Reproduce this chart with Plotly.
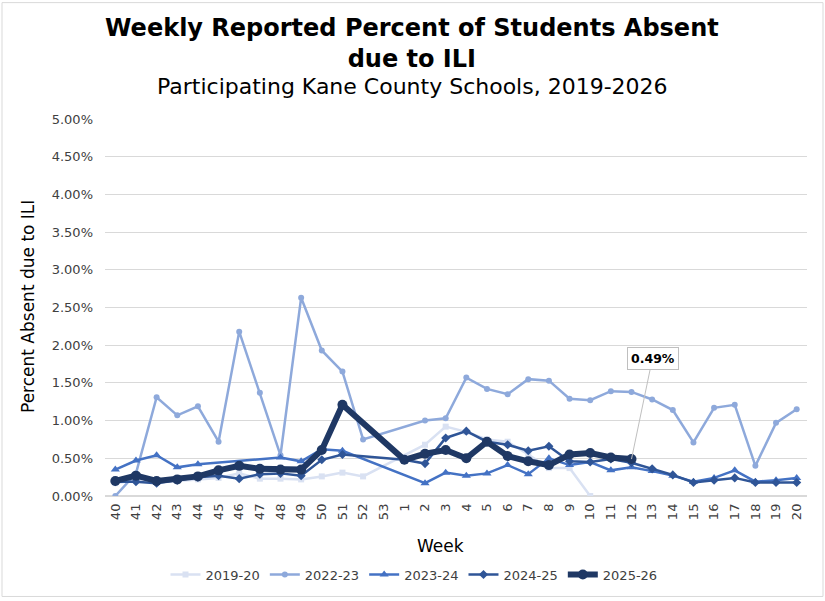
import plotly.graph_objects as go

# weeks of the flu season, 40..53 then 1..20
weeks = [str(w) for w in range(40, 54)] + [str(w) for w in range(1, 21)]

# percent absent due to ILI (None = no report, line connects across)
s2019_20 = [0.17, 0.21, 0.20, 0.20, 0.22, 0.24, 0.30, 0.23, 0.23, 0.22, 0.26, 0.31, 0.26,
            None, None, 0.68, 0.92, 0.85, 0.75, 0.72, 0.55, 0.37, 0.37, 0.00,
            None, None, None, None, None, None, None, None, None, None]
s2022_23 = [0.00, 0.30, 1.31, 1.07, 1.19, 0.72, 2.18, 1.37, 0.54, 2.63, 1.93, 1.65, 0.75,
            None, None, 1.00, 1.03, 1.57, 1.42, 1.35, 1.55, 1.53, 1.29, 1.27, 1.39,
            1.38, 1.28, 1.14, 0.71, 1.17, 1.21, 0.40, 0.97, 1.15]
s2023_24 = [0.35, 0.47, 0.54, 0.38, 0.42, None, None, None, 0.51, 0.46, 0.62, 0.60,
            None, None, None, 0.17, 0.31, 0.27, 0.30, 0.41, 0.29, 0.50, 0.41, 0.45,
            0.34, 0.38, 0.33, 0.27, 0.19, 0.24, 0.34, 0.19, 0.21, 0.24]
s2024_25 = [0.19, 0.19, 0.17, 0.21, 0.25, 0.27, 0.23, 0.29, 0.30, 0.27, 0.48, 0.55,
            None, None, 0.48, 0.43, 0.77, 0.86, 0.72, 0.68, 0.60, 0.66, 0.46, 0.45,
            0.49, 0.44, 0.36, 0.28, 0.18, 0.21, 0.24, 0.18, 0.18, 0.18]
s2025_26 = [0.20, 0.27, 0.20, 0.22, 0.26, 0.34, 0.40, 0.36, 0.35, 0.35, 0.61, 1.21,
            None, None, 0.48, 0.56, 0.61, 0.50, 0.72, 0.53, 0.46, 0.41, 0.55, 0.57,
            0.51, 0.49, None, None, None, None, None, None, None, None]

FONT = "DejaVu Sans"

series = [
    ("2019-20", s2019_20, "#D9E1F2", 2.5, "square", 6),
    ("2022-23", s2022_23, "#8EA9DB", 2.5, "circle", 6),
    ("2023-24", s2023_24, "#4472C4", 2.5, "triangle-up", 8),
    ("2024-25", s2024_25, "#2F5597", 2.5, "diamond", 7),
    ("2025-26", s2025_26, "#1F3864", 6, "circle", 10),
]

fig = go.Figure()
for name, vals, col, lw, sym, ms in series:
    fig.add_trace(go.Scatter(
        x=weeks, y=vals, name=name, mode="lines+markers",
        line=dict(color=col, width=lw),
        marker=dict(color=col, symbol=sym, size=ms),
        connectgaps=True,
    ))

# plot area in pixels: x 105..807, y 119..498
L, R, T, B = 105, 18, 119, 103
W, H = 825 - L - R, 601 - T - B

def px(x):
    return (x - L) / W

def py(y):
    return (601 - B - y) / H

fig.update_layout(
    width=825, height=601,
    margin=dict(l=L, r=R, t=T, b=B),
    paper_bgcolor="white", plot_bgcolor="white",
    font=dict(family=FONT, color="#000000"),
    showlegend=True,
    legend=dict(orientation="h", x=px(414), xanchor="center", y=py(577), yanchor="middle",
                font=dict(size=13, color="#404040"), traceorder="normal"),
)

fig.update_xaxes(type="category", categoryorder="array", categoryarray=weeks,
                 range=[-0.5, len(weeks) - 0.5],
                 tickangle=-90, tickfont=dict(size=13, color="#404040"),
                 showgrid=False, showline=False, ticks="", ticklabelstandoff=4)
fig.update_yaxes(range=[0, 5], dtick=0.5, tickformat=".2f", ticksuffix="%",
                 tickfont=dict(size=13, color="#404040"),
                 gridcolor="#D9D9D9", gridwidth=1, zeroline=True, zerolinecolor="#D9D9D9",
                 showline=False, ticks="", ticklabelstandoff=11)

fig.add_annotation(text="<b>Weekly Reported Percent of Students Absent<br>due to ILI</b>",
                   xref="paper", yref="paper", x=px(412), xanchor="center",
                   y=py(43), yanchor="middle", showarrow=False,
                   font=dict(size=24, color="#000000"))
fig.add_annotation(text="Participating Kane County Schools, 2019-2026", xref="paper", yref="paper",
                   x=px(412), xanchor="center", y=py(86), yanchor="middle", showarrow=False,
                   font=dict(size=22, color="#000000"))
fig.add_annotation(text="Percent Absent due to ILI", xref="paper", yref="paper",
                   x=px(28), xanchor="center", y=py(308), yanchor="middle",
                   textangle=-90, showarrow=False,
                   font=dict(size=17, color="#000000"))
fig.add_annotation(text="Week", xref="paper", yref="paper",
                   x=px(440), xanchor="center", y=py(548), yanchor="middle", showarrow=False,
                   font=dict(size=17, color="#000000"))

# callout for the latest value (x given as category index)
last_i = max(i for i, v in enumerate(s2025_26) if v is not None)
fig.add_annotation(x=last_i, y=s2025_26[last_i], text=f"<b>{s2025_26[last_i]:.2f}%</b>",
                   showarrow=True, arrowhead=0, arrowcolor="#BFBFBF", arrowwidth=1,
                   ax=21, ay=-101, bgcolor="white", bordercolor="#BFBFBF", borderwidth=1,
                   borderpad=3, font=dict(size=12.5, color="#000000"))

# chart border
fig.add_shape(type="rect", xref="paper", yref="paper",
              x0=px(2), x1=px(823), y0=py(599), y1=py(2),
              line=dict(color="#D9D9D9", width=1), layer="below")

fig.write_html("out.html", config={"displayModeBar": False},
               post_script="document.body.style.margin='0';")
